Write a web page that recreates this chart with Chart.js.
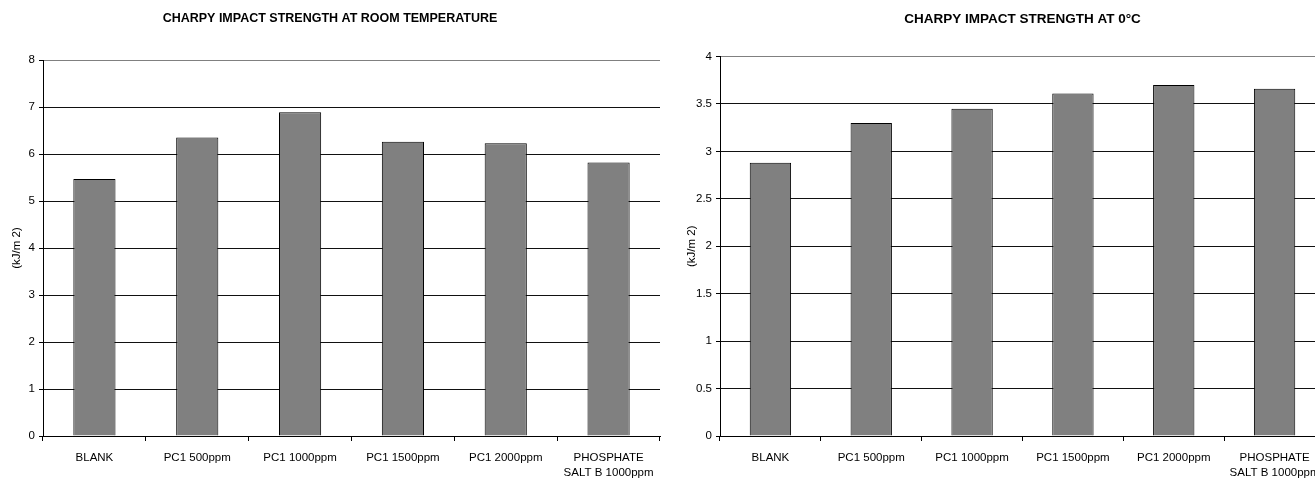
<!DOCTYPE html>
<html>
<head>
<meta charset="utf-8">
<title>Charpy impact strength</title>
<script src="https://cdn.jsdelivr.net/npm/chart.js@4/dist/chart.umd.min.js"></script>
<style>
  html, body { margin: 0; padding: 0; background: #fff; overflow: hidden; }
  #wrap { position: relative; width: 1315px; height: 480px; overflow: hidden; }
  #roomChart { position: absolute; left: 0; top: 0; }
  #coldChart { position: absolute; left: 665px; top: 0; }
</style>
</head>
<body>
<div id="wrap">
  <canvas id="roomChart" width="680" height="480"></canvas>
  <canvas id="coldChart" width="700" height="480"></canvas>
</div>
<script>
// Sample groups along the category axis
const categories = [
  'BLANK',
  'PC1 500ppm',
  'PC1 1000ppm',
  'PC1 1500ppm',
  'PC1 2000ppm',
  ['PHOSPHATE', 'SALT B 1000ppm']
];

// Impact strength, kJ/m2
const roomTempValues = [5.47, 6.35, 6.89, 6.26, 6.23, 5.82];
const zeroDegValues  = [2.88, 3.30, 3.45, 3.61, 3.70, 3.66];

// Value axis ranges and steps
const roomTempAxis = { min: 0, max: 8, step: 1 };
const zeroDegAxis  = { min: 0, max: 4, step: 0.5 };

const titles = {
  room: 'CHARPY IMPACT STRENGTH AT ROOM TEMPERATURE',
  cold: 'CHARPY IMPACT STRENGTH AT 0°C'
};
const unitLabel = '(kJ/m 2)';

const FONT = "'Liberation Sans', Arial, sans-serif";
const BAR_FILL = '#808080';
const INK = '#000000';
const FRAME = '#808080';

function buildChart(canvas, values, axis, titleText, opts) {
  const last = categories.length;
  return new Chart(canvas, {
    type: 'bar',
    data: {
      labels: categories,
      datasets: [{
        data: values,
        backgroundColor: BAR_FILL,
        borderColor: INK,
        borderWidth: 1,
        barPercentage: 0.41,
        categoryPercentage: 1.0
      }]
    },
    options: {
      responsive: false,
      animation: false,
      devicePixelRatio: 1,
      layout: { padding: { left: 0, top: 0, bottom: 0, right: opts.rightPad } },
      plugins: {
        legend: { display: false },
        tooltip: { enabled: false },
        title: {
          display: true,
          text: titleText,
          fullSize: opts.titleFullSize,
          color: INK,
          font: { family: FONT, size: opts.titleSize, weight: 'bold', lineHeight: 1.2 },
          padding: { top: opts.titleTop, bottom: opts.titleGap }
        }
      },
      scales: {
        x: {
          type: 'category',
          offset: true,
          border: { display: true, color: INK, width: 1 },
          grid: {
            offset: true,
            drawOnChartArea: true,
            // only the right-hand frame edge shows inside the plot
            color: (ctx) => (ctx.index === last ? FRAME : 'rgba(0,0,0,0)'),
            tickColor: INK,
            tickLength: 5,
            lineWidth: 1
          },
          ticks: {
            color: INK,
            padding: 10,
            maxRotation: 0,
            autoSkip: false,
            font: { family: FONT, size: 11.5, lineHeight: 1.25 }
          },
          afterFit: (scale) => { scale.height = 44; }
        },
        y: {
          min: axis.min,
          max: axis.max,
          border: { display: true, color: INK, width: 1 },
          grid: {
            color: (ctx) => (ctx.tick && ctx.tick.value === axis.max ? FRAME : '#111111'),
            tickColor: INK,
            tickLength: 4,
            lineWidth: 1
          },
          ticks: {
            stepSize: axis.step,
            color: INK,
            padding: 4,
            font: { family: FONT, size: 11.5 },
            callback: (v) => String(v)
          },
          title: {
            display: true,
            text: unitLabel,
            color: INK,
            font: { family: FONT, size: 11.5, lineHeight: 1.2 },
            padding: { top: opts.unitOffset, bottom: 0 }
          },
          afterFit: (scale) => { scale.width = opts.axisWidth; }
        }
      }
    }
  });
}

buildChart(document.getElementById('roomChart'), roomTempValues, roomTempAxis, titles.room,
  { titleFullSize: true, titleSize: 12.5, titleTop: 11.5, titleGap: 33.5,
    axisWidth: 43, unitOffset: 10, rightPad: 20 });

buildChart(document.getElementById('coldChart'), zeroDegValues, zeroDegAxis, titles.cold,
  { titleFullSize: false, titleSize: 13.5, titleTop: 10.9, titleGap: 29.4,
    axisWidth: 55, unitOffset: 20, rightPad: 40 });
</script>
</body>
</html>
